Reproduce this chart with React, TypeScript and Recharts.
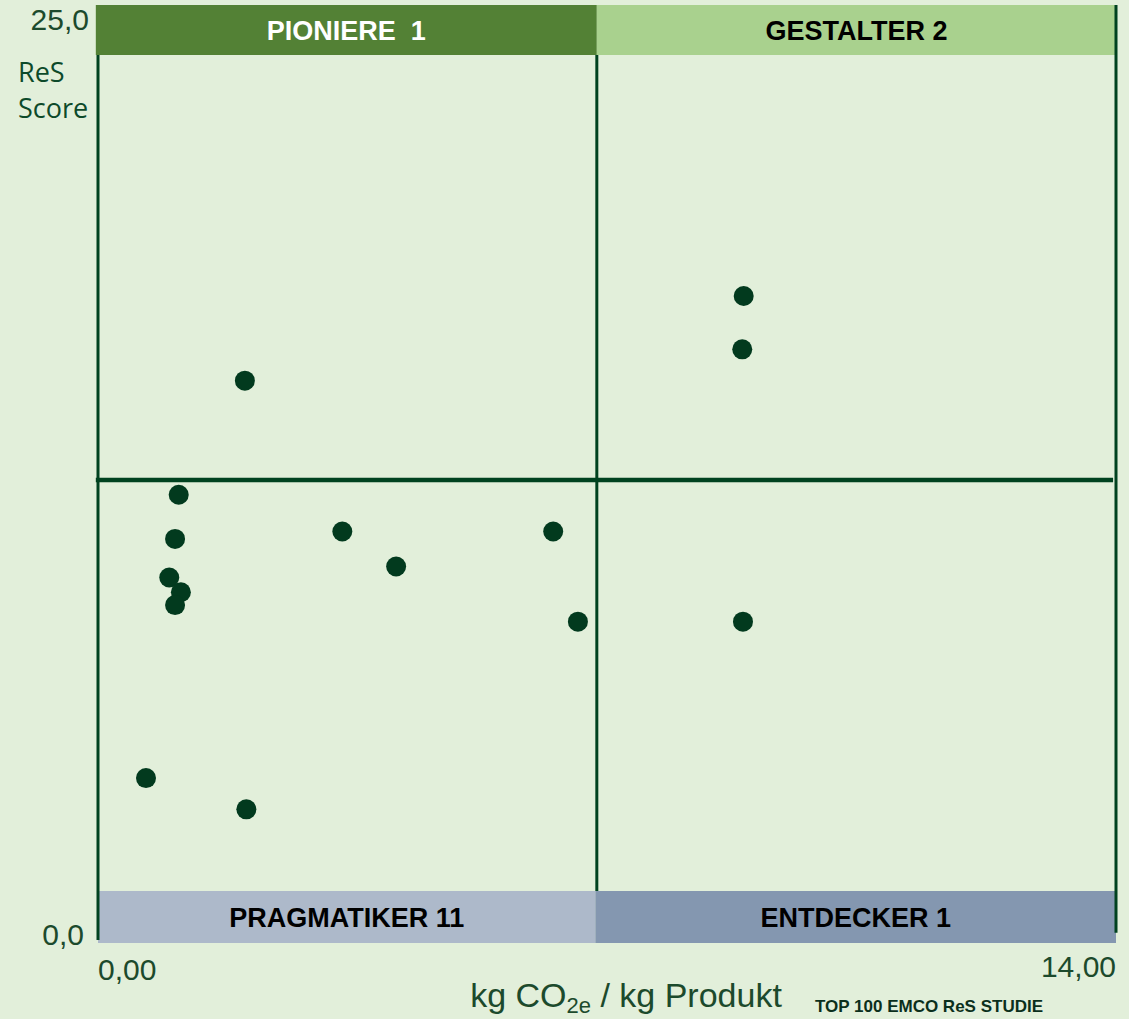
import React from 'react';
import { ScatterChart, Scatter, XAxis, YAxis, ReferenceArea, ReferenceLine } from 'recharts';

// kg CO2e / kg Produkt vs. ReS Score, one dot per company
const co2Values = [2.02, 8.88, 8.86, 1.11, 1.06, 3.36, 6.26, 4.1, 0.98, 1.14, 1.06, 6.6, 8.87, 0.66, 2.04];
const resScores = [15.2, 17.5, 16.05, 12.1, 10.9, 11.1, 11.1, 10.15, 9.85, 9.45, 9.1, 8.65, 8.65, 4.4, 3.55];

const xTicks = [0, 14];
const yTicks = [0, 25];
const xTickLabels = ['0,00', '14,00'];
const yTickLabels = ['0,0', '25,0'];

const quadrantNames = ['PIONIERE \u00a01', 'GESTALTER 2', 'PRAGMATIKER 11', 'ENTDECKER 1'];
const splitX = 6.86;
const splitY = 12.5;

const points = co2Values.map((x, i) => ({ x, y: resScores[i] }));

const BG = '#e2efda';
const LINE = '#00421f';
const DOT = '#023a1e';
const TEXT = '#1c4a2c';
const FONT = '"Liberation Sans", Arial, sans-serif';

const bandLabel = (value: string, fill: string) => ({
  value,
  position: 'center' as const,
  fill,
  fontSize: 27,
  fontWeight: 'bold',
  fontFamily: FONT,
});

const XTick = (props: any) => {
  const { x, y, payload, index } = props;
  const first = index === 0;
  return (
    <text
      x={x}
      y={y + (first ? 32 : 29)}
      textAnchor={first ? 'start' : 'end'}
      fill={TEXT}
      fontSize={30}
      fontFamily={FONT}
    >
      {xTickLabels[xTicks.indexOf(payload.value)]}
    </text>
  );
};

const YTick = (props: any) => {
  const { y, payload } = props;
  const top = payload.value === 25;
  return (
    <text
      x={top ? 89 : 84}
      y={y + (top ? 10 : 5)}
      textAnchor="end"
      fill={TEXT}
      fontSize={30}
      fontFamily={FONT}
    >
      {yTickLabels[yTicks.indexOf(payload.value)]}
    </text>
  );
};

export default function App() {
  return (
    <div
      style={{
        position: 'absolute',
        left: 0,
        top: 0,
        width: 1129,
        height: 1019,
        background: BG,
        overflow: 'hidden',
      }}
    >
      <ScatterChart width={1129} height={1019} margin={{ top: 20, right: 13, bottom: 0, left: 0 }}>
        <XAxis
          type="number"
          dataKey="x"
          domain={[0, 14]}
          ticks={xTicks}
          height={79}
          axisLine={false}
          tickLine={false}
          tick={<XTick />}
          allowDataOverflow
        />
        <YAxis
          type="number"
          dataKey="y"
          domain={[0, 25]}
          ticks={yTicks}
          width={98}
          axisLine={false}
          tickLine={false}
          tick={<YTick />}
          allowDataOverflow
        />

        <ReferenceArea x1={-0.03} x2={splitX} y1={24.05} y2={25.41} fill="#538135" fillOpacity={1} ifOverflow="visible" label={bandLabel(quadrantNames[0], '#ffffff')} />
        <ReferenceArea x1={splitX} x2={14} y1={24.05} y2={25.41} fill="#a9d18e" fillOpacity={1} ifOverflow="visible" label={bandLabel(quadrantNames[1], '#000000')} />
        <ReferenceArea x1={0} x2={6.84} y1={-0.08} y2={1.33} fill="#adb9ca" fillOpacity={1} ifOverflow="visible" label={bandLabel(quadrantNames[2], '#000000')} />
        <ReferenceArea x1={6.84} x2={14} y1={-0.08} y2={1.33} fill="#8497b0" fillOpacity={1} ifOverflow="visible" label={bandLabel(quadrantNames[3], '#000000')} />

        <ReferenceLine segment={[{ x: 0, y: 0 }, { x: 0, y: 24.05 }]} stroke={LINE} strokeWidth={3} ifOverflow="visible" />
        <ReferenceLine segment={[{ x: 14, y: 0.2 }, { x: 14, y: 25.41 }]} stroke={LINE} strokeWidth={3} ifOverflow="visible" />
        <ReferenceLine segment={[{ x: splitX, y: 1.33 }, { x: splitX, y: 24.05 }]} stroke={LINE} strokeWidth={3} ifOverflow="visible" />
        <ReferenceLine segment={[{ x: -0.03, y: splitY }, { x: 13.96, y: splitY }]} stroke={LINE} strokeWidth={4.5} ifOverflow="visible" />

        <Scatter
          data={points}
          isAnimationActive={false}
          shape={(p: any) => <circle cx={p.cx} cy={p.cy} r={10} fill={DOT} />}
        />
      </ScatterChart>

      <div
        style={{
          position: 'absolute',
          left: 18,
          top: 54,
          color: '#0d4a2a',
          fontFamily: '"Open Sans", sans-serif',
          fontSize: 27,
          lineHeight: '36px',
        }}
      >
        ReS
        <br />
        Score
      </div>

      <div
        style={{
          position: 'absolute',
          left: 0,
          width: 1252,
          top: 976,
          textAlign: 'center',
          color: TEXT,
          fontFamily: FONT,
          fontSize: 34,
          lineHeight: '38px',
          whiteSpace: 'nowrap',
        }}
      >
        kg CO<span style={{ fontSize: 22, position: 'relative', top: 6 }}>2e</span> / kg Produkt
      </div>

      <div
        style={{
          position: 'absolute',
          left: 815,
          top: 997,
          color: '#0b2f1c',
          fontFamily: FONT,
          fontWeight: 'bold',
          fontSize: 17,
          lineHeight: '20px',
          whiteSpace: 'nowrap',
        }}
      >
        TOP 100 EMCO ReS STUDIE
      </div>
    </div>
  );
}
